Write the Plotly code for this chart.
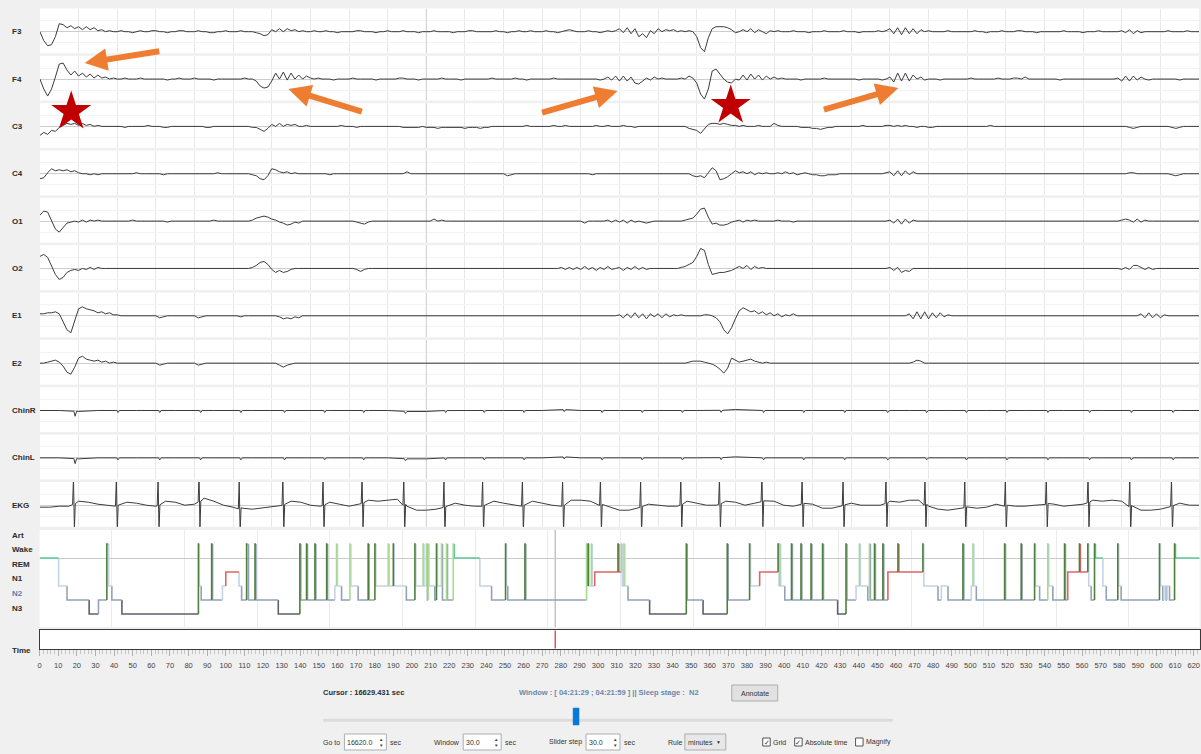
import numpy as np
import plotly.graph_objects as go

W, H = 1201, 754

# ---------------------------------------------------------------- data
CHANNELS = ["F3", "F4", "C3", "C4", "O1", "O2", "E1", "E2", "ChinR", "ChinL", "EKG"]
WINDOW_START_S = 16620.0
WINDOW_LEN_S = 30.0
CURSOR_S = 16629.431
EEG_DT = 0.1          # sample spacing of the EEG/EOG lists (s)

F3 = [
    0, -9, -14, -13, -5, 8, 7, 4, 6, 3,
    5, 2, 5, 2, 4, 1, 2, 0, 1, 0,
    0, 1, 0, 0, -1, 0, 1, 0, 0, 1,
    1, 0, 0, -1, 0, 0, 1, 1, 0, 0,
    0, 1, 0, 0, -1, -1, 0, 0, 1, 0,
    0, 0, 1, 0, 0, 0, -1, -2, -4, -3,
    2, 0, 3, 0, 3, 1, 2, 0, 1, 0,
    0, 1, 0, 0, 1, 0, 0, -1, 0, 0,
    0, 0, 1, 1, 0, 0, 0, -1, 0, 0,
    1, 0, 0, 0, 1, 0, 0, 0, -1, 0,
    0, 0, 1, 0, 0, 0, 0, -1, 0, 0,
    0, 1, 1, 0, 0, 0, 0, 0, 1, 0,
    0, -1, 0, 0, 1, 0, 0, 1, 0, 0,
    0, 1, 0, 0, -1, 0, 1, 2, 1, 0,
    0, 0, 1, 0, 0, -1, 0, 1, 0, 1,
    3, -1, 4, -2, 3, -5, -2, -6, 1, -2,
    3, 0, 2, 1, 2, 0, 1, 0, 1, 0,
    -5, -16, -20, -6, 3, 5, 5, 5, 4, 2,
    -1, 0, 2, 0, 3, -1, 2, 0, -2, 1,
    0, 1, 0, 0, 0, 1, 0, 0, 0, -1,
    0, 0, 0, 1, 0, 0, 0, 0, 1, 0,
    0, 0, -1, 0, 0, 0, 0, 1, 0, 1,
    3, -2, 4, -3, 4, -2, 3, -2, 2, 0,
    1, 0, 0, 0, 0, 1, 0, 0, 0, 0,
    0, 0, 1, 0, 0, -1, 0, 0, 0, 1,
    0, 0, 0, 1, 1, 0, 0, 0, -1, 0,
    0, 0, 0, 0, 0, 1, 0, 0, 0, 0,
    -1, 0, 0, 0, 1, 0, 0, 0, 0, 0,
    1, -1, 2, -2, 1, -1, 0, 0, 0, 0,
    0, 0, 1, 0, 0, 0, 0, 1, 0, 0,
    0]

F4 = [
    0, -10, -17, -10, 2, 15, 16, 9, 4, 8,
    3, 6, 2, 5, 1, 4, 1, 2, 0, 1,
    0, 0, 1, 0, 0, 0, 1, 0, 0, 0,
    0, 0, 0, -1, 0, 0, 1, 0, 0, 0,
    1, 0, 0, 0, 0, -1, 0, 0, 0, 0,
    0, 0, 0, 1, 0, 0, -2, -7, -9, -8,
    -2, 6, 0, 7, -1, 6, 0, 4, 0, 3,
    1, 0, 1, 0, 0, 0, -1, 0, 0, 0,
    0, 1, 0, 0, 0, 0, 0, -1, 0, 0,
    0, 0, 0, 1, 1, 0, 0, 0, -1, 0,
    0, 0, 0, 0, 1, 0, 0, 0, 0, -1,
    0, 0, 0, 0, 0, 0, 0, 1, 0, 0,
    0, 0, 0, 1, 0, 0, -1, 0, 0, 0,
    0, 0, 0, 1, 0, 0, 0, 0, 0, 0,
    0, 0, 0, 0, 0, -1, 0, 2, -1, 3,
    -2, 3, -2, 2, -4, -5, -2, 1, -1, 2,
    0, 1, 0, 0, 0, 0, 1, 0, 3, 1,
    -4, -15, -20, -10, 8, 10, 5, 0, -3, -4,
    0, -1, 4, -1, 5, 0, 4, -1, 3, 0,
    2, 0, 1, 0, 0, 0, 0, -1, 0, 0,
    0, 0, 0, 1, 0, 0, 0, 0, 0, 0,
    0, 0, -1, 0, 0, 0, 0, 0, -1, 0,
    2, -3, 6, -2, 6, -2, 4, 0, 2, -1,
    0, 0, 0, -1, 0, 0, 0, 0, 0, 0,
    0, 1, 0, 0, 0, 0, 0, 0, 1, 0,
    0, 0, 1, 1, 0, 2, 0, 0, 0, 0,
    0, 0, 0, 0, -1, 0, 0, 0, 0, 0,
    0, 0, 0, 0, 0, 0, 0, 0, 0, 1,
    -2, 3, -2, 3, -1, 2, 0, -1, 0, 0,
    0, 0, 0, 0, 0, -1, 0, 0, 0, 0,
    0]

C3 = [
    -9, -6, -8, -4, -5, -1, 1, 3, 2, 3,
    1, 3, 1, 2, 0, 1, 0, 0, 0, 0,
    0, 0, -1, 0, 0, 0, 0, 0, 1, 0,
    0, 0, -1, -1, 0, 0, 0, 0, 0, 0,
    0, 0, 0, -1, -1, 0, 0, 0, 0, 0,
    0, 0, 0, 0, 0, -1, -1, -3, -5, -2,
    2, 0, 3, 0, 2, 1, 2, 0, 0, 1,
    0, 0, 0, 0, 0, 0, 0, 0, 1, 0,
    0, 0, -1, 0, 0, 0, 0, 0, 0, 0,
    0, 0, 0, 0, -1, -1, -1, -1, -1, 0,
    -1, -1, -1, -2, -1, -1, -1, -1, -1, -1,
    -2, -1, -1, -1, -2, -1, -1, 0, 0, 0,
    0, 0, 0, 0, 0, 0, 1, 0, 0, 0,
    0, 0, 0, 1, 0, 0, 1, 0, 0, 0,
    0, 0, 0, 0, 1, 0, 0, 1, 0, 0,
    0, 1, 0, 0, -1, 0, 0, 0, 0, 0,
    0, 0, 0, 0, 0, 0, 0, 0, -2, -3,
    -4, -7, -2, 2, 3, 3, 2, 3, 2, 1,
    1, 0, 1, 0, 0, 0, 1, 0, 0, 0,
    3, 1, 0, 0, 0, 0, 0, -1, -1, -1,
    -2, -2, -3, -2, -1, -1, 0, 0, 0, 0,
    0, 0, 0, 1, 0, 0, 0, 0, 0, 1,
    1, 0, 1, 0, 1, 0, 0, -1, 0, 0,
    -1, -1, 0, 0, 0, 0, 0, 0, 0, 0,
    0, 0, 0, 0, 0, 0, 1, 0, 0, 0,
    0, 0, 0, 0, 0, 0, 0, 0, 0, 0,
    0, 0, 0, 0, 0, 0, 0, 0, 0, 0,
    0, 0, 0, 0, 0, 0, 0, 0, 0, 0,
    0, 0, -1, -2, -1, 0, 0, 0, 0, 0,
    0, 0, 0, -1, -2, -1, 0, 0, 0, 0,
    0]

C4 = [
    -5, -4, 1, 5, 3, 4, 3, 4, 2, 3,
    1, 0, 0, -1, 0, -1, 0, 0, 0, 0,
    0, 0, 0, 0, 0, 1, 0, 0, 0, 0,
    0, 0, -1, 0, 0, 0, 0, 0, 0, 0,
    0, 0, 0, 0, 0, 0, 1, 0, 0, 0,
    0, 0, 0, 0, 0, -1, -2, -5, -6, -2,
    5, 4, 2, 1, 2, 0, 1, 0, 0, 0,
    0, 0, 0, 0, 0, -1, 0, 0, 0, 0,
    0, 0, 0, 0, 0, 0, 0, 0, 0, 0,
    0, 0, 0, 0, 0, 2, 0, 0, 0, 0,
    0, 0, 0, 0, 0, 0, 0, 0, 0, 0,
    0, 0, 0, 0, 0, 0, 0, 0, 0, 0,
    0, -2, -1, 0, 0, 0, 0, 0, 0, 0,
    0, 0, 0, 0, 0, 0, 0, 0, 0, 0,
    0, 0, 0, -1, 0, 0, 0, 0, 0, 0,
    0, 0, 0, 0, 0, 0, 0, 0, 0, 0,
    0, 0, 0, 0, 0, 0, 0, 0, 0, -2,
    -3, -2, -4, 1, 6, 3, -6, -5, -3, 0,
    3, 1, 2, 0, 2, -1, 1, 0, 1, 0,
    0, 1, 0, 2, 0, 1, -1, 0, 1, 0,
    -1, -1, -2, -2, -1, -1, -1, 0, 0, 0,
    0, 0, 0, 0, 0, 0, 0, 0, 0, 1,
    2, -2, 3, -2, 3, -1, 2, 0, 0, 0,
    0, 0, 0, 0, 0, 0, 0, 0, 0, 0,
    0, 0, 0, 0, 0, 0, 0, 0, 0, 0,
    0, 0, 0, 0, 0, 0, 0, 0, 0, 0,
    0, 0, 0, 0, 0, 0, 0, 0, 0, 0,
    0, 0, 0, 0, 0, 0, 0, 0, 0, 0,
    0, 0, 1, 1, 0, 0, 0, 0, 0, 0,
    0, 0, 0, -1, -2, -1, 0, 0, 0, 0,
    0]

O1 = [
    6, 10, 9, 0, -8, -11, -7, -2, -1, 0,
    -1, 1, -1, 1, 0, 1, 0, 0, 0, 0,
    0, 0, 0, 0, 1, 0, 0, 0, 0, 0,
    0, 0, 0, -1, 0, 0, 0, 0, 0, 0,
    0, 0, 0, 0, 0, 1, 0, 0, 0, 0,
    0, 0, 0, 0, 0, 1, 3, 4, 5, 4,
    2, 1, -1, -2, -4, -3, -1, -2, 0, 0,
    0, 0, 0, 0, 0, 0, 0, 0, 0, 0,
    0, 0, -1, -2, -3, -1, 0, 0, 0, 0,
    0, 0, 0, 0, 0, 0, 0, 0, 0, 0,
    0, 0, 2, 0, 1, 0, 0, 0, 0, 0,
    0, 0, 0, 0, 0, 0, 0, 0, 0, 0,
    0, 0, 0, 0, 0, 0, 0, 0, 0, 0,
    0, 0, 0, 0, 0, 0, 0, 0, 0, 0,
    0, -2, 0, 0, 0, 0, 0, 1, -1, 1,
    -1, 1, -2, 1, -1, 0, -1, -2, -1, 0,
    0, 0, 0, 0, 0, 0, 0, 1, 2, 3,
    7, 12, 13, 4, -3, -2, -4, -4, -3, -1,
    0, 1, -1, 1, 0, 1, 0, 0, 0, 0,
    0, 1, 0, 0, 0, -1, 0, 0, 0, 0,
    0, 0, 0, 0, 0, 0, 0, 0, 0, 0,
    0, 0, 0, 0, 0, 0, 0, 0, 0, 0,
    1, -2, 2, -3, 2, -2, 1, 0, 0, 0,
    0, 0, 0, 0, 0, 0, 0, 0, 0, 0,
    0, 0, 0, 0, 0, 0, 0, 0, 0, 0,
    0, 0, 0, 0, 0, 0, 0, 0, 0, 0,
    0, 0, 0, 0, 0, 0, 0, 0, 0, 0,
    0, 0, 0, 0, 0, 0, 0, 0, 0, 0,
    1, 2, 1, -1, 2, -1, 1, 0, 0, 0,
    0, 0, 0, 0, 0, 0, 0, 0, 0, 0,
    0]

O2 = [
    12, 14, 11, 2, -6, -11, -9, -4, -2, -1,
    -2, 0, -1, 1, -1, 1, 0, 0, 0, 0,
    0, 0, 0, 0, 0, 0, 0, 0, 0, 0,
    0, 0, 0, 0, 0, 0, 0, 0, 0, 0,
    0, 0, 0, 0, 0, 0, 0, 0, 0, 0,
    0, 0, 0, 0, 0, 1, 3, 6, 7, 4,
    -1, -4, -2, -4, -3, -1, 0, 0, 0, 0,
    0, 0, 0, 0, 0, 0, 0, 0, 0, 0,
    0, 0, -1, -3, -1, 0, 0, 0, 0, 0,
    0, 0, 0, 0, 0, 0, 0, 0, 0, 0,
    0, 0, 0, 0, 0, 0, 0, 0, 0, 0,
    0, 0, 0, 0, 0, 0, 0, 0, 0, 0,
    0, 0, 0, 0, 0, 0, 0, 0, 0, 0,
    0, 0, 0, 0, 0, 1, -1, 1, -1, 1,
    -1, 2, -1, 1, -2, 1, -1, 2, -1, 0,
    1, -2, 1, -1, 2, -1, 1, -1, 0, 0,
    0, 0, 0, 0, 0, 0, 1, 2, 4, 6,
    12, 20, 18, 4, -6, -5, -4, -4, -3, -2,
    0, 2, 0, 3, -1, 2, 0, 1, 0, 0,
    0, 0, 0, 0, 0, 0, 0, 0, 0, 0,
    0, 0, 0, 0, 0, 0, 0, 0, 0, 0,
    0, 0, 0, 0, 0, 0, 0, 0, 0, 0,
    1, -2, 1, -4, -2, -3, 0, 0, 0, 0,
    0, 0, 0, 0, 0, 0, 0, 0, 0, 0,
    0, 0, 0, 0, 0, 0, 0, 0, 0, 0,
    0, 0, 0, 0, 0, 0, 0, 0, 0, 0,
    0, 0, 0, 0, 0, 0, 0, 0, 0, 0,
    0, 0, 0, 0, 0, 0, 0, 0, 0, 0,
    -1, 1, -1, 3, 3, 1, -1, 1, -1, 0,
    0, 0, 0, 0, 0, 0, 0, 0, 0, 0,
    0]

E1 = [
    2, 2, 3, 3, 4, 2, -6, -14, -17, -6,
    7, 9, 7, 6, 5, 3, 4, 2, 3, 1,
    1, 0, 0, 0, 0, 0, 0, 0, 0, 0,
    0, -2, -1, 0, 0, 0, 0, 0, 0, 0,
    0, -2, -1, 0, 0, 0, 0, 0, 0, 0,
    0, 0, -1, 0, 0, 0, 0, 0, 0, 0,
    0, 0, -1, -3, -2, -3, -1, -2, 0, 0,
    0, 0, 0, 0, 0, 0, 0, 0, 0, 0,
    0, 0, 0, 0, 0, 0, 0, 0, 0, 0,
    0, 0, 0, 0, 0, 0, 0, 0, 0, 0,
    0, 0, 0, 0, 0, 0, 0, 0, 0, 0,
    0, 0, 0, 0, 0, 0, 0, 0, 0, 0,
    0, 0, 0, 0, 0, 0, 0, 0, 0, 0,
    0, 0, 0, 0, 0, 0, 0, 0, 0, 0,
    0, 0, 0, 0, 0, 0, 0, 0, 0, 0,
    1, -2, 2, -2, 3, -2, 2, -3, 2, -1,
    2, -2, 2, -1, 1, 0, 1, 0, 0, 0,
    0, 0, 1, 1, 0, -2, -6, -14, -18, -12,
    -3, 5, 8, 6, 4, 5, 2, 4, 1, 3,
    0, 2, -1, 1, 0, 2, 0, 0, 0, 0,
    0, 0, 0, 0, 0, 0, 0, 0, 0, 0,
    0, 0, 0, 0, 0, 0, 0, 0, 0, 0,
    0, 0, 0, 0, 0, 2, -3, 4, -3, 4,
    -3, 3, -2, 3, -1, 1, 0, 0, 0, 0,
    0, 0, 0, 0, 0, 0, 0, 0, 0, 0,
    0, 0, 0, 0, 0, 0, 0, 0, 0, 0,
    0, 0, 0, 0, 0, 0, 0, 0, 0, 0,
    0, 0, 0, 0, 0, 0, 0, 0, 0, 0,
    0, 0, 0, 0, 0, 2, -2, 3, -2, 2,
    -2, 1, 0, 0, 0, 0, 0, 0, 0, 0,
    0]

E2 = [
    0, 0, 1, 2, 3, 1, -3, -9, -11, -4,
    5, 7, 4, 3, 2, 3, 1, 2, 0, 1,
    0, 0, 0, 0, 0, 0, 0, 0, 0, 0,
    0, -2, -1, 0, 0, 0, 0, 0, 0, 0,
    0, -2, -1, 0, 0, 0, 0, 0, 0, 0,
    0, 0, 0, 0, 0, 0, 0, 0, 0, 0,
    0, 0, -2, -4, -2, -1, 0, 0, 0, 0,
    0, 0, 0, 0, 0, 0, 0, 0, 0, 0,
    0, 0, 0, 0, 0, 0, 0, 0, 0, 0,
    0, 0, 0, 0, 0, 0, 0, 0, 0, 0,
    0, 0, 0, 0, 0, 0, 0, 0, 0, 0,
    0, 0, 0, 0, 0, 0, 0, 0, 0, 0,
    0, 0, 0, 0, 0, 0, 0, 0, 0, 0,
    0, 0, 0, 0, 0, 0, 0, 0, 0, 0,
    0, 0, 0, 0, 0, 0, 0, 0, 0, 0,
    0, 0, 0, 0, 0, 0, 0, 0, 0, 0,
    0, 0, 0, 0, 0, 0, 0, 0, 1, 2,
    2, 2, 1, 0, -1, -3, -6, -10, -5, 5,
    3, 1, 2, 3, 4, 2, 1, 0, 1, 0,
    0, 0, 0, 0, 0, 0, 0, 0, 0, 0,
    0, 0, 0, 0, 0, 0, 0, 0, 0, 0,
    0, 0, 0, 0, 0, 0, 0, 0, 0, 0,
    0, 0, 0, 0, 0, 0, 1, 3, 2, 0,
    0, 0, 0, 0, 0, 0, 0, 0, 0, 0,
    0, 0, 0, 0, 0, 0, 0, 0, 0, 0,
    0, 0, 0, 0, 0, 0, 0, 0, 0, 0,
    0, 0, 0, 0, 0, 0, 0, 0, 0, 0,
    0, 0, 0, 0, 0, 0, 0, 0, 0, 0,
    0, 0, 0, 0, 0, 0, 0, 0, 0, 0,
    0, 0, 0, 0, 0, 0, 0, 0, 0, 0,
    0]

# heart beats (R-peak times, s) shared by the EKG and its artefact on the chin leads
EKG_BEATS = [0.88, 1.99, 3.07, 4.13, 5.17, 6.30, 7.34, 8.35, 9.43, 10.47,
             11.47, 12.50, 13.54, 14.52, 15.56, 16.60, 17.60, 18.70, 19.74,
             20.80, 21.91, 22.92, 23.95, 25.00, 26.06, 27.14, 28.22, 29.30]
EKG_DT = 0.25
EKG_BASE = [
    -2, -2, -1, -1, 4, 3, 1, 0,
    0, 3, 2, 0, -1, 4, 3, 0,
    1, 7, 4, 0, -2, -3, -4, -3,
    -2, 0, 4, 3, 0, -1, 3, 1,
    -1, 1, 5, 4, 5, 6, -1, -5,
    -5, -4, -1, 2, 0, -1, 0, 4,
    2, 0, 0, 4, 2, 0, -1, 5,
    5, 4, 1, -2, -5, -5, -2, 1,
    0, -1, -1, 4, 2, 0, 0, 4,
    3, 0, 2, 5, 4, 0, -1, 2,
    1, -3, -3, 0, 2, 0, 0, 0,
    4, 3, 5, 5, -1, -4, -5, -4,
    -1, -3, -2, 1, 0, -1, -1, 0,
    2, 1, -1, 0, 1, 5, 4, 5,
    4, -1, -5, -5, -4, -1, 2, 0,
    0]
EKG_R = 26
EKG_S = -26

CHIN_DT = 0.5
CHINR = [0, 0, -1, 0, 0, 0, 0, 0, 0, 0,
         0, 0, 0, 0, 0, 0, 0, 0, 0, -1,
         -1, 0, 0, 0, 0, 0, 0, 1, 0, 0,
         0, 0, 0, 0, 0, 0, 1, 0, 0, 0,
         0, 0, 0, 0, 0, 0, 0, 0, 0, 0,
         0, 0, 0, 0, 0, 0, 0, 0, 0, 0, 0]
CHINL = [0, 0, -1, 0, 0, 0, 0, 0, 0, 0,
         0, 0, 0, 0, 0, 0, 0, 0, 0, -1,
         -1, 0, 0, 0, 0, 0, 0, 1, 0, 0,
         0, 0, 0, 0, 0, 0, 1, 0, 0, 0,
         0, 0, 0, 0, 0, 0, 0, 0, 0, 0,
         0, 0, 0, 0, 0, 0, 0, 0, 0, 0, 0]
CHINR_BLIP = [-5, -2, -2, -2, -2, -2, -2, -2, -2, -2, -2, -2, -2, -2,
              -2, -2, -2, -2, -2, -2, -2, -2, -2, -2, -2, -2, -2, -2]
CHINL_BLIP = [-5, -2, -2, -2, -2, -2, -2, -2, -2, -2, -2, -2, -2, -2,
              -2, -2, -2, -2, -2, -2, -2, -2, -2, -2, -2, -2, -2, -2]

# hypnogram: stage change times (minutes) and stage codes
# A / a = artefact epoch, W wake, R REM, 1/2/3 = N1/N2/N3
HYP_T = [0, 10.2, 14.7, 26.6, 31.6, 36.1, 36.6, 37.1, 38.8, 44.2,
         85.3, 85.8, 86.8, 92.4, 92.9, 98.2, 100.0, 107.1, 108.5, 111.2,
         111.7, 112.2, 115.7, 116.2, 128.2, 139.8, 140.3, 143.4, 143.9, 147.9,
         148.4, 154.2, 154.7, 158.6, 159.5, 160.0, 162.2, 166.7, 167.2, 171.1,
         176.5, 177.0, 180.1, 180.6, 187.3, 187.8, 190.0, 190.5, 194.4, 197.0,
         201.6, 202.1, 206.0, 206.5, 207.8, 208.3, 208.7, 209.2, 212.3, 213.2,
         213.7, 215.9, 216.4, 218.6, 219.1, 222.2, 222.7, 236.5, 242.8, 250.3,
         250.8, 251.5, 260.7, 261.2, 293.8, 294.3, 294.7, 295.2, 296.4, 296.9,
         298.2, 310.7, 311.2, 312.5, 313.0, 313.9, 314.4, 316.1, 327.7, 347.4,
         347.9, 356.4, 369.4, 369.9, 381.4, 381.9, 386.8, 396.7, 397.2, 397.6,
         398.1, 400.3, 403.9, 404.4, 409.0, 409.5, 414.4, 414.9, 420.6, 421.1,
         428.7, 433.2, 433.7, 438.6, 440.4, 440.9, 444.9, 445.8, 446.3, 448.5,
         449.0, 453.0, 453.5, 455.7, 461.1, 461.6, 474.5, 475.0, 482.6, 484.4,
         488.0, 496.0, 496.5, 500.5, 501.4, 501.9, 503.2, 518.4, 518.9, 527.3,
         527.8, 534.5, 535.0, 537.2, 541.6, 542.1, 544.3, 550.6, 551.1, 552.3,
         558.6, 559.1, 563.1, 563.6, 564.9, 566.7, 567.2, 571.2, 573.0, 579.2,
         579.7, 581.0, 601.6, 602.1, 603.4, 604.0, 605.2, 605.7, 607.0, 609.7,
         610.2]
HYP_S = ["W", "1", "2", "3", "2", "A", "a", "1", "2", "3",
         "A", "1", "2", "A", "2", "1", "R", "1", "2", "A",
         "a", "2", "A", "2", "3", "A", "2", "A", "2", "A",
         "2", "A", "2", "1", "a", "1", "2", "a", "1", "2",
         "A", "2", "A", "1", "a", "1", "A", "1", "1", "2",
         "A", "1", "a", "1", "a", "2", "a", "1", "2", "A",
         "1", "a", "2", "a", "2", "a", "W", "1", "2", "A",
         "1", "2", "A", "2", "a", "1", "A", "1", "a", "1",
         "R", "A", "R", "a", "1", "a", "1", "2", "3", "A",
         "2", "3", "A", "2", "A", "1", "R", "A", "1", "a",
         "1", "2", "A", "2", "A", "2", "A", "2", "A", "2",
         "3", "A", "2", "1", "a", "1", "2", "a", "2", "A",
         "2", "A", "2", "R", "A", "R", "A", "1", "2", "1",
         "2", "A", "2", "1", "a", "1", "2", "A", "2", "A",
         "2", "A", "1", "2", "a", "1", "2", "A", "2", "R",
         "A", "R", "A", "1", "2", "A", "W", "1", "2", "A",
         "1", "2", "A", "1", "2", "1", "2", "1", "2", "A",
         "W"]
HYP_END = 623.1

# annotation marks: arrows point at F4 events, stars sit over C3
ARROW_T = [1.16, 6.43, 14.95, 22.22]
ARROW_V = [16, -10, -12, -9]
STAR_T = [0.81, 17.88]
STAR_V = [15, 21]

# ---------------------------------------------------------------- helpers
def pxx(x):
    return x / W


def pxy(y):
    return 1 - y / H


FONT = "Liberation Sans"
TRACE_COLOR = "#3c3c3c"
PANEL_TOP0 = 31.7      # centre line of the first channel (px)
PANEL_PITCH = 47.35
PANEL_UP, PANEL_DOWN = 23.2, 21.5
X0_PX, X1_PX = 38.0, 1199.0

fig = go.Figure()
layout = dict(
    width=W, height=H, autosize=False,
    margin=dict(l=0, r=0, t=0, b=0, pad=0),
    paper_bgcolor="#f0f0f0", plot_bgcolor="#ffffff",
    showlegend=False, font=dict(family=FONT, size=8, color="#333"),
)
annotations, shapes = [], []

series = {"F3": F3, "F4": F4, "C3": C3, "C4": C4, "O1": O1, "O2": O2,
          "E1": E1, "E2": E2}


def with_beats(base, dt, beats, shape):
    """Merge a slow base series with short beat-locked deflections."""
    tb0 = np.arange(len(base)) * dt
    beats = np.asarray(beats)
    keep = [i for i, t in enumerate(tb0) if np.min(np.abs(beats - t)) > 0.06]
    pts = [(tb0[i], base[i]) for i in keep]
    for j, tb in enumerate(beats):
        b = float(np.interp(tb, tb0, base))
        for dtau, dv in shape(j):
            pts.append((tb + dtau, b + dv))
    pts.sort()
    return [p[0] for p in pts], [p[1] for p in pts]


for i, name in enumerate(CHANNELS):
    k = i + 1
    sx = "" if k == 1 else str(k)
    c = PANEL_TOP0 + PANEL_PITCH * i
    layout["xaxis" + sx] = dict(
        domain=[pxx(X0_PX), pxx(X1_PX)], range=[0, WINDOW_LEN_S], anchor="y" + sx,
        showgrid=True, tick0=0, dtick=1, gridcolor="#e8e8e8", gridwidth=1,
        showticklabels=False, ticks="", zeroline=False, showline=False, fixedrange=True)
    layout["yaxis" + sx] = dict(
        domain=[pxy(c + PANEL_DOWN), pxy(c - PANEL_UP)], range=[-PANEL_DOWN, PANEL_UP],
        anchor="x" + sx, tickvals=[-11, 11], showgrid=True, gridcolor="#f3f3f3",
        zeroline=True, zerolinecolor="#cdcdcd", zerolinewidth=1,
        showticklabels=False, ticks="", showline=False, fixedrange=True)
    # the 10-second division is drawn a little darker
    fig.add_trace(go.Scatter(x=[10, 10], y=[-PANEL_DOWN, PANEL_UP], xaxis="x" + sx,
                             yaxis="y" + sx, mode="lines",
                             line=dict(color="#d0d0d0", width=1), hoverinfo="skip"))

    if name in series:
        v = series[name]
        t = np.round(np.arange(len(v)) * EEG_DT, 3)
    elif name == "EKG":
        t, v = with_beats(EKG_BASE, EKG_DT, EKG_BEATS,
                          lambda j: [(-0.035, -1), (-0.012, EKG_R), (0.012, EKG_S), (0.035, 0)])
    else:
        base = CHINR if name == "ChinR" else CHINL
        blip = CHINR_BLIP if name == "ChinR" else CHINL_BLIP
        t, v = with_beats(base, CHIN_DT, EKG_BEATS,
                          lambda j, bl=blip: [(0.0, 0), (0.03, bl[j]), (0.07, 0)])
    fig.add_trace(go.Scatter(x=t, y=v, xaxis="x" + sx, yaxis="y" + sx, mode="lines",
                             line=dict(color=TRACE_COLOR, width=1), hoverinfo="skip"))
    annotations.append(dict(x=pxx(8), y=pxy(c), xref="paper", yref="paper",
                            text="<b>%s</b>" % name, showarrow=False, xanchor="left",
                            yanchor="middle", font=dict(size=8, color="#2b2b2b")))

# ---------------------------------------------------------------- hypnogram
HK = 12
HYP_TOP, HYP_BOT = 530.0, 627.0
LEVEL = {"A": 5, "a": 5, "W": 4, "R": 3, "1": 2, "2": 1, "3": 0}
STAGE_COLOR = {"A": "#4f7f3c", "a": "#a9d98f", "W": "#5ccb92", "R": "#e06464",
               "1": "#c3d4e7", "2": "#93a3b7", "3": "#59626e"}
yr = [(614 - HYP_BOT) / 14, (614 - HYP_TOP) / 14]

layout["xaxis%d" % HK] = dict(
    domain=[pxx(37.7), pxx(1199.5)], range=[0, HYP_END], anchor="y%d" % HK,
    showgrid=True, tick0=38.8, dtick=39.03, gridcolor="#ebebeb",
    showticklabels=False, ticks="", zeroline=False, fixedrange=True)
layout["yaxis%d" % HK] = dict(
    domain=[pxy(HYP_BOT), pxy(HYP_TOP)], range=yr, anchor="x%d" % HK,
    tickvals=[4], showgrid=True, gridcolor="#c9c9c9", zeroline=False,
    showticklabels=False, ticks="", fixedrange=True)

ends = HYP_T[1:] + [HYP_END]
paths = {s: ([], []) for s in STAGE_COLOR}
prev = None
for t0, t1, s in zip(HYP_T, ends, HYP_S):
    xs, ys = paths[s]
    if prev is not None:
        xs += [t0]
        ys += [LEVEL[prev]]
    xs += [t0, t1, None]
    ys += [LEVEL[s], LEVEL[s], None]
    prev = s

cursor_min = WINDOW_START_S / 60.0
fig.add_trace(go.Scatter(x=[cursor_min, cursor_min], y=yr, xaxis="x%d" % HK, yaxis="y%d" % HK,
                         mode="lines", line=dict(color="#c4c4c4", width=1.5), hoverinfo="skip"))
for s in ["3", "2", "1", "W", "R", "a", "A"]:
    xs, ys = paths[s]
    fig.add_trace(go.Scatter(x=xs, y=ys, xaxis="x%d" % HK, yaxis="y%d" % HK, mode="lines",
                             line=dict(color=STAGE_COLOR[s], width=1.6), hoverinfo="skip"))

STAGE_LABELS = [("Art", 535, "#2b2b2b"), ("Wake", 549.5, "#2b2b2b"), ("REM", 564, "#2b2b2b"),
                ("N1", 578.5, "#2b2b2b"), ("N2", 593.5, "#5a7fb0"), ("N3", 608, "#2b2b2b")]
for txt, yy, col in STAGE_LABELS:
    annotations.append(dict(x=pxx(8), y=pxy(yy), xref="paper", yref="paper",
                            text="<b>%s</b>" % txt, showarrow=False, xanchor="left",
                            yanchor="middle", font=dict(size=8, color=col)))

# ---------------------------------------------------------------- time ruler
TK = 13
layout["xaxis%d" % TK] = dict(
    domain=[pxx(37.7), pxx(1199.5)], range=[0, HYP_END], anchor="y%d" % TK,
    showgrid=False, zeroline=False, showline=True, mirror=True, linecolor="#3a3a3a",
    linewidth=1, ticks="outside", tick0=0, dtick=10, ticklen=6, tickcolor="#b0b0b0",
    ticklabelstandoff=3, tickfont=dict(size=7.5, color="#444"),
    minor=dict(dtick=2, ticklen=4, tickcolor="#c4c4c4", ticks="outside"),
    fixedrange=True)
layout["yaxis%d" % TK] = dict(
    domain=[pxy(649), pxy(630)], range=[0, 1], anchor="x%d" % TK, showgrid=False,
    zeroline=False, showline=True, mirror=True, linecolor="#3a3a3a", linewidth=1,
    showticklabels=False, ticks="", fixedrange=True)
fig.add_trace(go.Scatter(x=[cursor_min, cursor_min], y=[0.03, 0.97], xaxis="x%d" % TK,
                         yaxis="y%d" % TK, mode="lines",
                         line=dict(color="#e0584a", width=1.5), hoverinfo="skip"))
annotations.append(dict(x=pxx(8), y=pxy(650), xref="paper", yref="paper", text="<b>Time</b>",
                        showarrow=False, xanchor="left", yanchor="middle",
                        font=dict(size=8, color="#2b2b2b")))

# ---------------------------------------------------------------- overlays
ARROW_TAIL = [(76, -12), (75, 23), (-77, 22), (-76, 22)]
for (t_, v_), (ax_, ay_) in zip(zip(ARROW_T, ARROW_V), ARROW_TAIL):
    annotations.append(dict(x=t_, y=v_, xref="x2", yref="y2", ax=ax_, ay=ay_,
                            showarrow=True, arrowhead=2, arrowsize=0.75, arrowwidth=6,
                            arrowcolor="#ee7d32", standoff=0, text=""))
fig.add_trace(go.Scatter(x=STAR_T, y=STAR_V, xaxis="x3", yaxis="y3", mode="markers",
                         marker=dict(symbol="star", size=30, color="#c00000",
                                     line=dict(width=0)),
                         cliponaxis=False, hoverinfo="skip"))

# ---------------------------------------------------------------- control strip
def text(x, y, s, size=7, color="#333", anchor="left"):
    dx = -2 if anchor == "left" else 0
    annotations.append(dict(x=pxx(x + dx), y=pxy(y), xref="paper", yref="paper", text=s,
                            showarrow=False, xanchor=anchor, yanchor="middle",
                            font=dict(size=size, color=color)))


def rect(x0, y0, x1, y1, fill, line="#adadad", lw=1):
    shapes.append(dict(type="rect", xref="paper", yref="paper", x0=pxx(x0), x1=pxx(x1),
                       y0=pxy(y1), y1=pxy(y0), fillcolor=fill,
                       line=dict(color=line, width=lw), layer="below"))


cursor_txt = "<b>Cursor : %.3f sec</b>" % CURSOR_S
text(322, 692, cursor_txt, size=7.5, color="#2b2b2b")
text(518, 692, "<b>Window : [ 04:21:29 ; 04:21:59 ] || Sleep stage :  N2</b>", size=7.5,
     color="#6a88a8")
rect(731, 685, 777, 701, "#e1e1e1")
text(754, 693, "Annotate", anchor="center")
rect(322, 719, 892, 721.5, "#dcdcdc", line="#dcdcdc", lw=0.5)
rect(572, 708, 578, 725, "#0a78d7", line="#0a78d7", lw=0.5)

ROW_Y = 742
text(322, ROW_Y, "Go to")
rect(343, 734, 385, 750, "#ffffff", line="#abadb3")
text(346, ROW_Y, "16620.0")
text(389, ROW_Y, "sec")
text(433, ROW_Y, "Window")
rect(462, 734, 500, 750, "#ffffff", line="#abadb3")
text(465, ROW_Y, "30.0")
text(504, ROW_Y, "sec")
text(548, ROW_Y, "Slider step")
rect(585, 734, 619, 750, "#ffffff", line="#abadb3")
text(588, ROW_Y, "30.0")
text(623, ROW_Y, "sec")
for xs_ in (380, 495, 614):
    text(xs_, 739, "▲", size=4.5, color="#444", anchor="center")
    text(xs_, 745.5, "▼", size=4.5, color="#444", anchor="center")
text(667, ROW_Y, "Rule")
rect(684, 734, 725, 750, "#e8e8e8", line="#adadad")
text(687, ROW_Y, "minutes")
text(718, ROW_Y, "▼", size=5, color="#333", anchor="center")
for cx, lab, checked in ((762, "Grid", True), (794, "Absolute time", True),
                         (855, "Magnify", False)):
    rect(cx, 738, cx + 7.5, 746, "#ffffff", line="#555")
    if checked:
        text(cx + 3.8, 742, "✓", size=7, color="#333", anchor="center")
    text(cx + 10, ROW_Y, lab)

layout["annotations"] = annotations
layout["shapes"] = shapes
fig.update_layout(**layout)
fig.write_html("out.html", config={"displayModeBar": False})
